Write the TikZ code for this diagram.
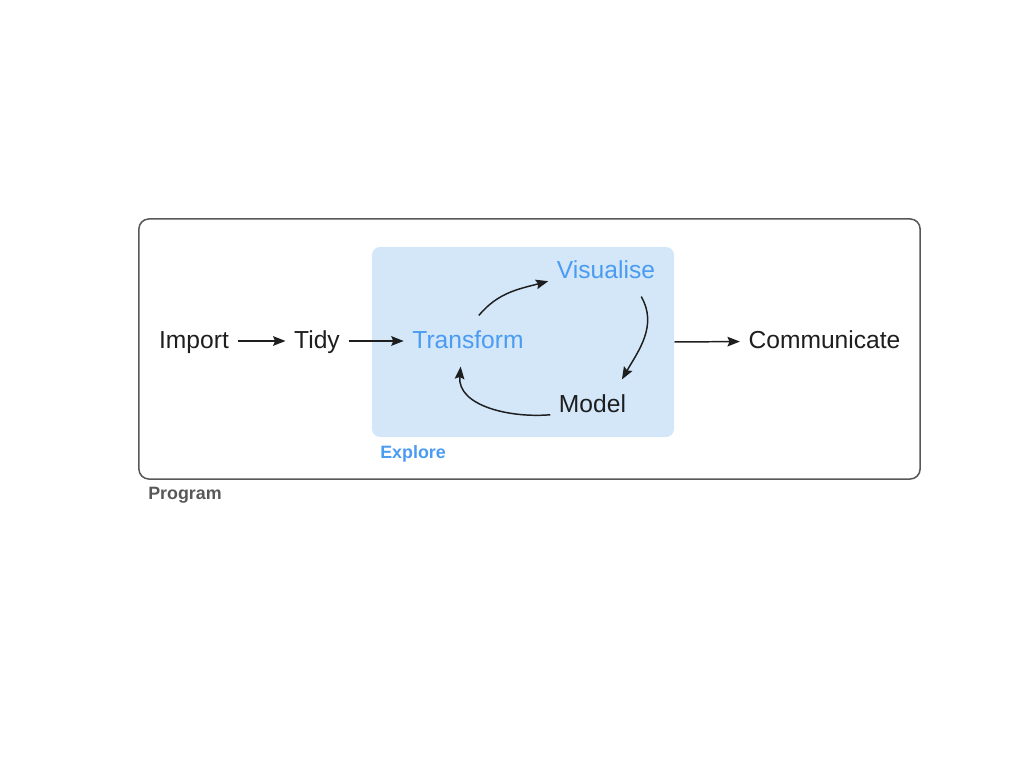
\documentclass[tikz,border=0pt]{standalone}
\usepackage{fontspec}
\setmainfont{Liberation Sans}
\usetikzlibrary{arrows.meta,positioning,backgrounds}
\definecolor{sky}{RGB}{74,155,242}
\definecolor{pale}{RGB}{212,231,249}
\definecolor{frame}{RGB}{88,88,88}
\definecolor{ink}{RGB}{30,30,30}
\tikzset{
  >={Stealth[length=3.1mm,width=2.4mm,inset=0.5mm]},
  stage/.style={text=#1,font=\fontsize{17.5}{21}\selectfont,inner xsep=6pt,inner ysep=13pt,
    text height=10pt,text depth=0pt},
  stage/.default=ink,
  flow/.style={->,line width=1.05pt,draw=ink},
  caption/.style={anchor=west,inner sep=0pt,font=\fontsize{12.7}{15}\selectfont\bfseries,text=#1},
  caption/.default=frame,
  outer box/.style={draw=frame,line width=1.1pt,rounded corners=0.25cm,
    minimum width=19.525cm,minimum height=6.5cm},
  explore box/.style={fill=pale,rounded corners=0.2cm,minimum width=7.55cm,minimum height=4.75cm}
}
\begin{document}
\begin{tikzpicture}[x=0.025cm,y=0.025cm]
        \useasboundingbox (0,0) rectangle (1024,768);
        % frames
        \node[outer box] (program) at (529.5,419) {};
        \node[explore box] (explore) at (523,426) {};
        \node[caption] (programlbl) at (148,273) {Program};
        \node[caption=sky] (explorelbl) at (380,314) {Explore};
        % stages
        \node[stage] (import) at (194,427) {Import};
        \node[stage] (tidy) at (317,427) {Tidy};
        \node[stage=sky] (transform) at (468,427) {Transform};
        \node[stage=sky] (visualise) at (606,497) {Visualise};
        \node[stage] (model) at (592.5,363) {Model};
        \node[stage] (communicate) at (824.5,427) {Communicate};
        % arrows
        \draw[flow] (import) -- (tidy);
        \draw[flow] (tidy) -- (transform);
        \draw[flow] (transform.67) to[out=50,in=195] (visualise.190);
        \draw[flow] (visualise.-36) to[out=-60,in=60] (model.41);
        \draw[flow] (model.193) to[out=185,in=-95] (transform.254);
        \draw[flow] (explore.east) -- (communicate);
      \end{tikzpicture}
\end{document}
